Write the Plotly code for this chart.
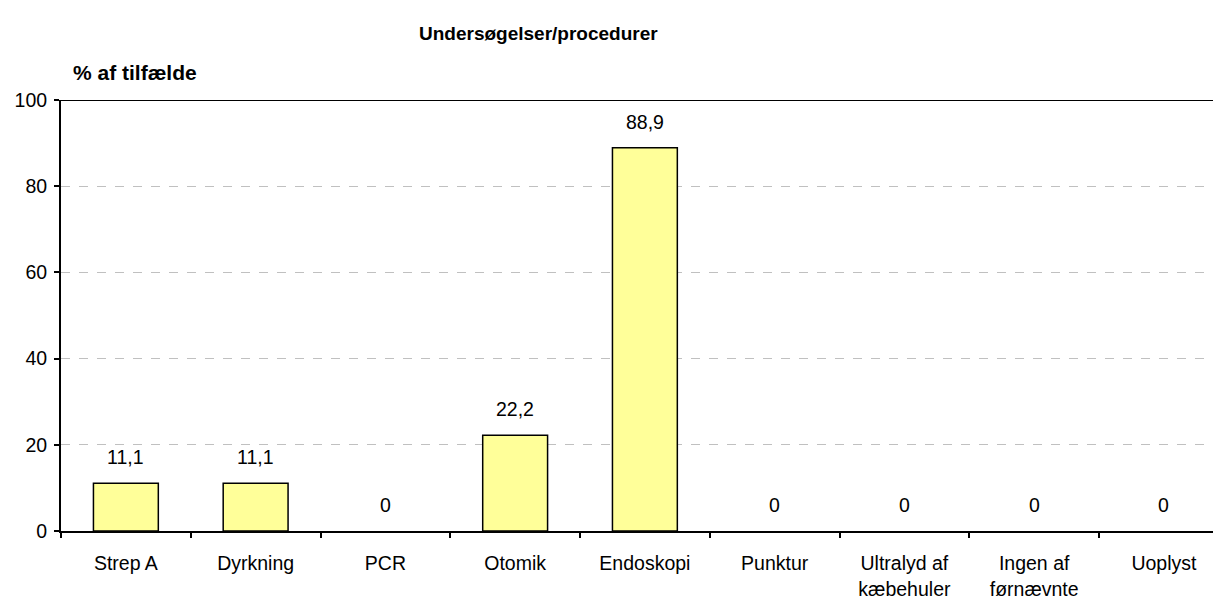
import plotly.graph_objects as go

# data
categories = ['Strep A', 'Dyrkning', 'PCR', 'Otomik', 'Endoskopi', 'Punktur',
              'Ultralyd af<br>kæbehuler', 'Ingen af<br>førnævnte', 'Uoplyst']
values = [11.1, 11.1, 0, 22.2, 88.9, 0, 0, 0, 0]
value_labels = ['11,1', '11,1', '0', '22,2', '88,9', '0', '0', '0', '0']
y_ticks = [0, 20, 40, 60, 80, 100]

FONT = 'Arial, Liberation Sans, sans-serif'
TXT = 19.5

fig = go.Figure()

# no outline on the empty bars (Excel draws nothing there)
outline = [1.5 if v > 0 else 0 for v in values]

fig.add_trace(go.Bar(
    x=categories,
    y=values,
    width=0.5,
    marker=dict(color='#FFFF99', line=dict(color='black', width=outline)),
    hoverinfo='x+y',
))

# value labels above the bars
for cat, v, lab in zip(categories, values, value_labels):
    fig.add_annotation(
        x=cat, y=v, text=lab, showarrow=False,
        xref='x', yref='y', yanchor='middle', yshift=26,
        font=dict(family=FONT, size=TXT, color='black'),
    )

# title and axis caption
fig.add_annotation(
    x=0.412, y=1, xref='paper', yref='paper', yanchor='middle', yshift=67,
    text='<b>Undersøgelser/procedurer</b>', showarrow=False,
    font=dict(family=FONT, size=19, color='black'),
)
fig.add_annotation(
    x=0.009, y=1, xref='paper', yref='paper', xanchor='left', yanchor='middle', yshift=28,
    text='<b>% af tilfælde</b>', showarrow=False,
    font=dict(family=FONT, size=21, color='black'),
)

# top border of the plot area
fig.add_shape(type='line', xref='paper', yref='y', x0=0, x1=1, y0=100, y1=100,
              line=dict(color='black', width=2))

# the page body adds an 8px margin, so the figure is 8px smaller
fig.update_layout(
    width=1213, height=594,
    margin=dict(l=53, r=0, t=92, b=71, autoexpand=False),
    plot_bgcolor='white', paper_bgcolor='white',
    showlegend=False,
    font=dict(family=FONT, size=TXT, color='black'),
    xaxis=dict(
        range=[-0.5, 8.44],
        showline=True, linecolor='black', linewidth=2,
        ticks='outside', tickson='boundaries', ticklen=5, tickwidth=2, tickcolor='black',
        ticklabelstandoff=14,
        showgrid=False, automargin=False,
        tickfont=dict(family=FONT, size=TXT, color='black'),
    ),
    yaxis=dict(
        range=[0, 100], tickvals=y_ticks,
        showline=True, linecolor='black', linewidth=2,
        ticks='outside', ticklen=5, tickwidth=2, tickcolor='black',
        ticklabelstandoff=3,
        showgrid=True, gridcolor='#C0C0C0', griddash='dash', gridwidth=1,
        zeroline=False, automargin=False,
        tickfont=dict(family=FONT, size=TXT, color='black'),
    ),
)

fig.write_html('out.html')
